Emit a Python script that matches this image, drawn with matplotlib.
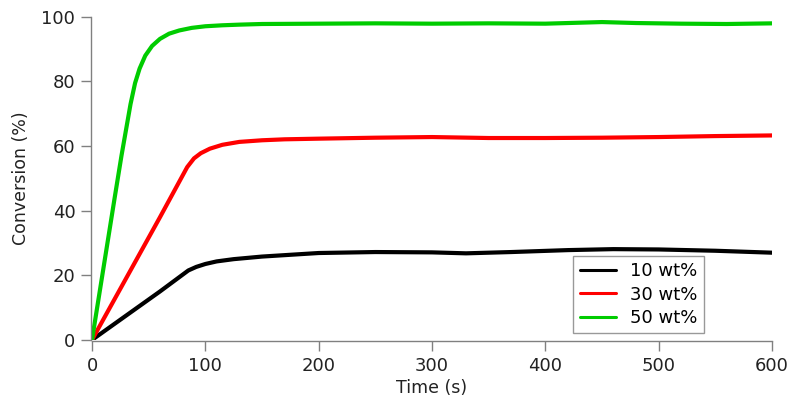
import matplotlib
matplotlib.use("Agg")
import matplotlib.pyplot as plt
import numpy as np

# values
time_10 = [0, 30, 60, 85, 92, 100, 110, 125, 150, 200, 250, 300, 330, 370, 420, 460, 500, 550, 600]
conv_10 = [0, 7.5, 15, 21.5, 22.6, 23.5, 24.3, 25.0, 25.8, 26.9, 27.2, 27.1, 26.8, 27.2, 27.8, 28.1, 28.0, 27.6, 27.0]

time_30 = [0, 30, 60, 84, 90, 96, 104, 115, 130, 150, 170, 200, 250, 300, 350, 400, 450, 500, 550, 600]
conv_30 = [0, 19, 38, 53.5, 56.2, 57.8, 59.2, 60.4, 61.3, 61.8, 62.1, 62.3, 62.6, 62.8, 62.5, 62.5, 62.6, 62.8, 63.1, 63.3]

time_50 = [0, 10, 20, 26, 30, 34, 38, 42, 47, 53, 60, 68, 77, 88, 100, 115, 130, 150, 200, 250, 300, 350, 400, 450, 480, 520, 560, 600]
conv_50 = [0, 22, 44, 57, 65, 73, 79.5, 84, 88, 91, 93.2, 94.8, 95.8, 96.6, 97.1, 97.4, 97.6, 97.8, 97.9, 98.0, 97.9, 98.0, 97.9, 98.4, 98.1, 97.9, 97.8, 98.0]

labels = ["10 wt%", "30 wt%", "50 wt%"]
colors = ["#000000", "#ff0000", "#00cc00"]

grey = "#808080"

fig = plt.figure(figsize=(8, 4.12), dpi=100)
ax = fig.add_axes([0.115, 0.175, 0.85, 0.784])

for t, c, lab, col in zip([time_10, time_30, time_50], [conv_10, conv_30, conv_50], labels, colors):
    ax.plot(t, c, color=col, lw=3.0, label=lab, solid_capstyle="round", solid_joinstyle="round")

ax.set_xlim(0, 600)
ax.set_ylim(0, 100)
ax.set_xticks(np.arange(0, 601, 100))
ax.set_yticks(np.arange(0, 101, 20))

for side in ["top", "right"]:
    ax.spines[side].set_visible(False)
for side in ["left", "bottom"]:
    ax.spines[side].set_color(grey)
    ax.spines[side].set_linewidth(1.0)
    ax.spines[side].set_position(("outward", 1))

ax.tick_params(colors=grey, labelcolor="#222222", labelsize=13, length=7, width=1.0,
               direction="out", pad=4)
ax.set_xlabel("Time (s)", fontsize=12.5, color="#222222", labelpad=3)
ax.set_ylabel("Conversion (%)", fontsize=12.5, color="#222222", labelpad=8)

leg = ax.legend(loc="lower right", bbox_to_anchor=(0.9, 0.02), fontsize=13, frameon=True,
                fancybox=False, edgecolor=grey, handlelength=2.0, borderpad=0.35,
                labelspacing=0.3, handletextpad=0.8, borderaxespad=0)
leg.get_frame().set_linewidth(1.0)
for line in leg.get_lines():
    line.set_linewidth(2.2)

fig.savefig("out.png", dpi=100)
